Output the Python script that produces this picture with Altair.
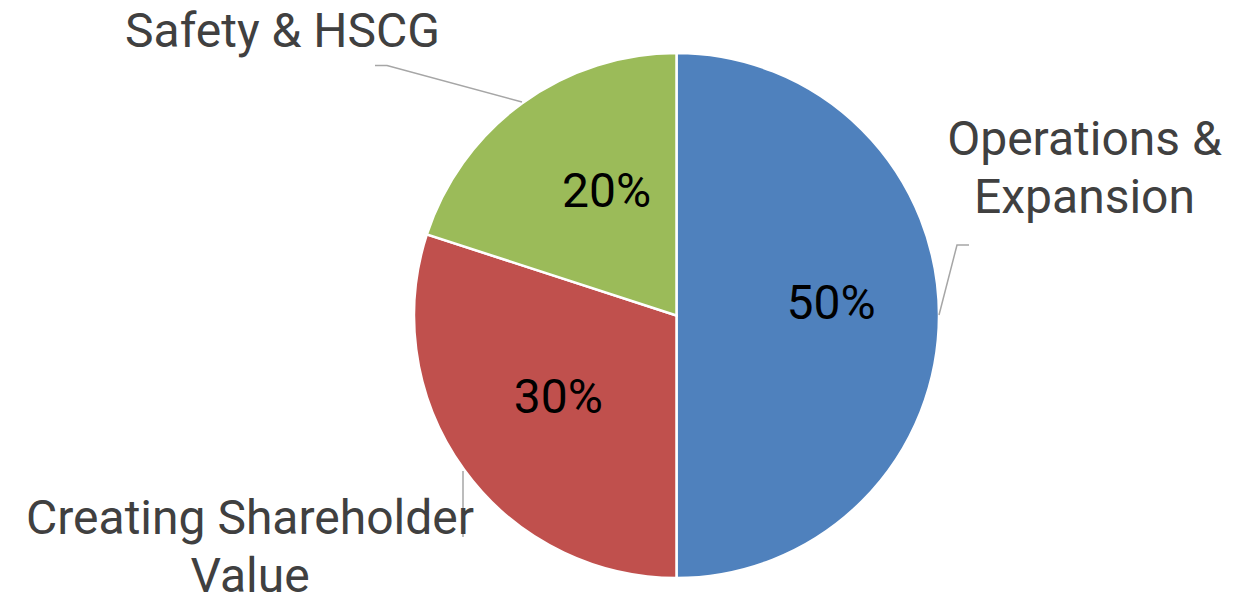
import altair as alt
import pandas as pd

# ---- data ----
categories = ["Operations & Expansion", "Creating Shareholder Value", "Safety & HSCG"]
shares = [50, 30, 20]
pct_labels = ["50%", "30%", "20%"]
slice_order = [0, 1, 2]
label_lines = [["Operations &", "Expansion"], ["Creating Shareholder", "Value"], ["Safety & HSCG"]]

# ---- styles / layout ----
colors = ["#4F81BD", "#C0504D", "#9BBB59"]
W, H = 1244, 589
CX, CY, R = 668.5, 307.5, 262.5
FONT = "Roboto"
FS = 48
# per-label nudges of the percentage labels (pixels)
pct_nudge = {"Operations & Expansion": (6.5, -10.5),
             "Creating Shareholder Value": (1.5, -3.5),
             "Safety & HSCG": (17, -2.5)}

df = pd.DataFrame({"category": categories, "share": shares,
                   "label": pct_labels, "order": slice_order})

# annotation placement (pixels inside the chart)
ann = pd.DataFrame({
    "category": categories,
    "text": label_lines,
    "x": [1076.5, 242, 274.5],
    "y": [147, 526, 38.5],
})
leaders = pd.DataFrame({
    "category": ["Operations & Expansion"] * 3 + ["Creating Shareholder Value"] * 2 + ["Safety & HSCG"] * 3,
    "step": [0, 1, 2, 0, 1, 0, 1, 2],
    "x": [931, 949, 961, 455, 455, 367, 379, 514],
    "y": [307, 237, 237, 463, 529, 57.5, 57.5, 94],
})

theta = alt.Theta("share:Q", stack=True)
order = alt.Order("order:Q")

pie = alt.Chart(df).mark_arc(outerRadius=R, stroke="white", strokeWidth=2.5).encode(
    theta=theta,
    order=order,
    color=alt.Color("category:N", scale=alt.Scale(domain=categories, range=colors), legend=None),
    x=alt.value(CX),
    y=alt.value(CY),
)

pct_layers = []
for cat in categories:
    ndx, ndy = pct_nudge[cat]
    pct_layers.append(
        alt.Chart(df).mark_text(radius=148, dx=ndx, dy=ndy, fontSize=FS, font=FONT, color="black",
                                baseline="middle", align="center").encode(
            theta=theta,
            order=order,
            text="label:N",
            opacity=alt.condition(alt.datum.category == cat, alt.value(1), alt.value(0)),
            x=alt.value(CX),
            y=alt.value(CY),
        )
    )

lines = alt.Chart(leaders).mark_line(color="#A6A6A6", strokeWidth=1.5).encode(
    x=alt.X("x:Q", scale=None, axis=None),
    y=alt.Y("y:Q", scale=None, axis=None),
    detail="category:N",
    order="step:Q",
)

labels = alt.Chart(ann).mark_text(fontSize=FS, font=FONT, color="#404040", align="center",
                                  baseline="alphabetic", lineHeight=58).encode(
    x=alt.X("x:Q", scale=None, axis=None),
    y=alt.Y("y:Q", scale=None, axis=None),
    text="text",
)

chart = alt.layer(pie, *pct_layers, lines, labels).properties(
    width=W, height=H, padding=0, background="white",
    autosize=alt.AutoSizeParams(type="fit", contains="padding"),
).configure_view(strokeWidth=0)

chart.save("out.html", embed_options={"renderer": "svg", "actions": False})
